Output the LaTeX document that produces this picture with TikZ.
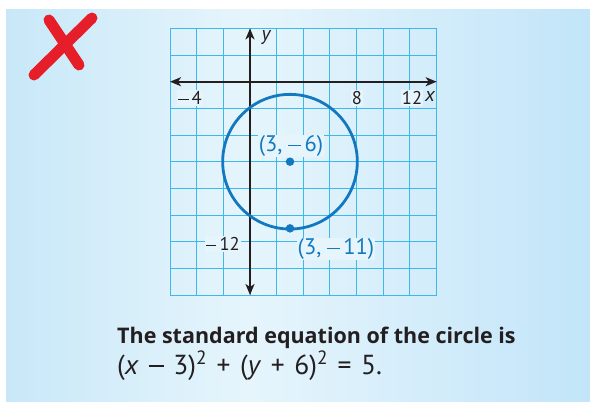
\documentclass[tikz,border=0pt]{standalone}
\usepackage{fontspec}
\setmainfont{Open Sans}
\newfontfamily\lblfont{PT Sans}
\usetikzlibrary{arrows.meta,positioning}
\definecolor{panelL}{HTML}{C8E8F8}
\definecolor{panelM}{HTML}{E6F5FC}
\definecolor{panelR}{HTML}{C2E5F9}
\definecolor{gridblue}{HTML}{3CB8EA}
\definecolor{circblue}{HTML}{1279C0}
\definecolor{markred}{HTML}{E61E2A}
\definecolor{ink}{HTML}{231F20}
\newcommand{\mbar}{\raisebox{0.24em}{\rule{0.55em}{0.07em}}}
\newcommand{\mminus}{\mbar\,}
\newcommand{\op}[1]{\hspace{0.35em}#1\hspace{0.35em}}
\tikzset{
  gridline/.style={gridblue, line width=1pt},
  axis/.style={ink, line width=1.8pt, {Stealth[length=11pt,width=9pt,inset=3pt]}-{Stealth[length=11pt,width=9pt,inset=3pt]}},
  circ/.style={circblue, line width=2.8pt},
  dot/.style={circle, fill=circblue, inner sep=0pt, minimum size=8.5pt},
  ticklbl/.style={font=\lblfont\fontsize{18.5}{18.5}\selectfont, text=ink, fill=panelM, inner sep=1pt},
  axislbl/.style={font=\lblfont\itshape\fontsize{20}{20}\selectfont, text=ink, inner sep=0pt},
  ptlbl/.style={font=\lblfont\fontsize{22.5}{22.5}\selectfont, text=circblue, fill=panelM, inner sep=1pt},
  caption/.style={font=\bfseries\fontsize{21.5}{24}\selectfont, text=ink, anchor=base west, inner sep=0pt},
  eqn/.style={font=\lblfont\fontsize{27.5}{27.5}\selectfont, text=ink, anchor=base west, inner sep=0pt},
  brush/.style={markred, line width=11pt, line cap=round}
}
\begin{document}
\begin{tikzpicture}[x=1pt, y=-1pt]
  \useasboundingbox (0,0) rectangle (590,402);
  % panel
  \shade[left color=panelL, right color=panelM] (6,9) rectangle (250,402);
  \shade[left color=panelM, right color=panelR] (250,9) rectangle (590,402);
  % red mark
  \coordinate (m1) at (34,75);
  \coordinate (m2) at (92,18);
  \coordinate (m3) at (49,20);
  \coordinate (m4) at (79,65);
  \draw[brush] (m3) -- (m4);
  \draw[brush] (m1) -- (m2);
  % graph
  \begin{scope}[shift={(250,81.7)}, x=13.333pt, y=13.333pt]
    \draw[gridline] (-6,-16) grid[step=2] (14,4);
    \coordinate (xl) at (-6,0);
    \coordinate (xr) at (14,0);
    \coordinate (yt) at (0,4);
    \coordinate (yb) at (0,-16);
    \draw[axis] (xl) -- (xr);
    \draw[axis] (yb) -- (yt);
    \node (ctr) at (3,-6) {};
    \node (pt) at (3,-11) {};
    \draw[circ] (ctr.center) circle[radius=5.05];
    \node[dot] at (ctr.center) {};
    \node[dot] at (pt.center) {};
  \end{scope}
  % labels
  \node[ticklbl] (xm4) at (190,98) {\mminus4};
  \node[ticklbl] (x8) at (357,98) {8};
  \node[ticklbl] (x12) at (412,98) {12};
  \node[axislbl] (xlbl) at (430,96) {x};
  \node[axislbl] (ylbl) at (266,38) {y};
  \node[ticklbl] (ym12) at (223,244) {\mminus12};
  \node[ptlbl] (ctrlbl) at (291,146) {(3, \mminus6)};
  \node[ptlbl] (ptlbl) at (336,249) {(3, \mminus11)};
  % caption
  \node[caption] (cap1) at (117,343) {The standard equation of the circle is};
  \node[eqn] (cap2) at (117,374) {(\textit{x}\op{\mbar}3)\textsuperscript{2}\op{+}(\textit{y}\op{+}6)\textsuperscript{2}\op{=}5.};
\end{tikzpicture}
\end{document}
